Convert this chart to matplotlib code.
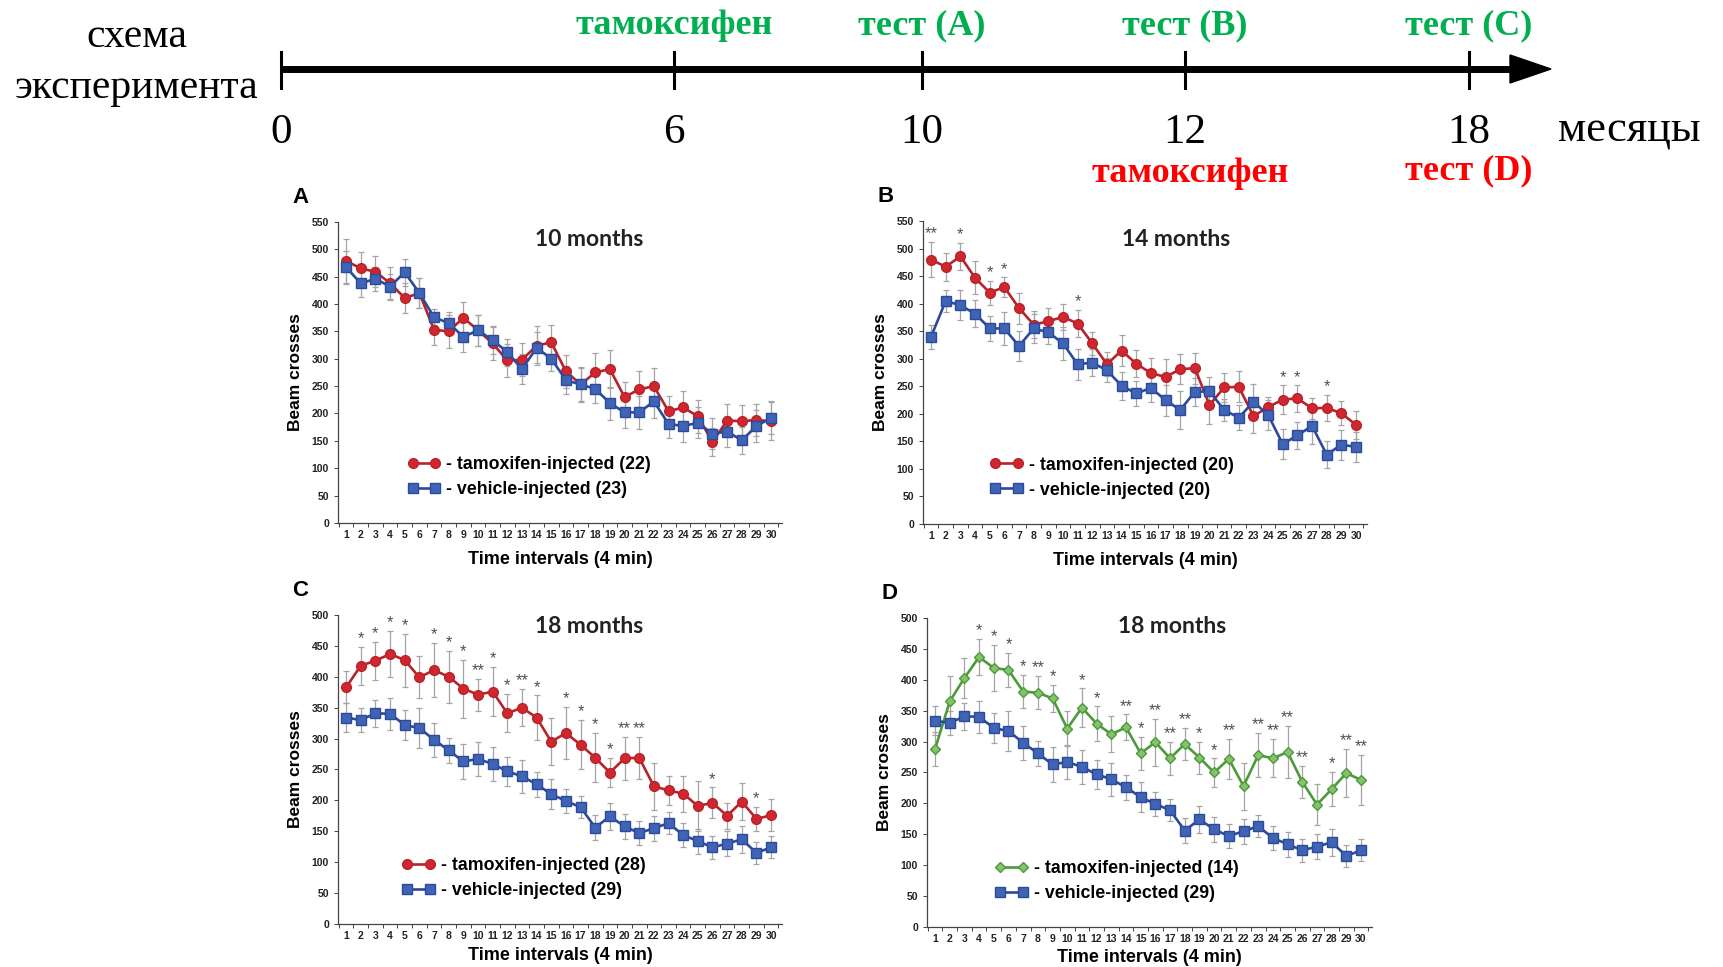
import numpy as np
import matplotlib.pyplot as plt
from matplotlib.patches import Polygon

intervals = np.arange(1, 31)

# A - 10 months
a_tam = [479, 465, 459, 438, 411, 420, 353, 350, 375, 352, 328, 297, 298, 324, 330,
         277, 253, 275, 281, 230, 244, 250, 204, 211, 195, 148, 187, 186, 188, 186]
a_tam_err = [40, 30, 28, 30, 28, 28, 28, 30, 28, 28, 30, 30, 30, 35, 32,
             30, 32, 35, 35, 28, 33, 33, 28, 30, 30, 25, 30, 30, 30, 35]
a_veh = [467, 438, 446, 432, 458, 420, 376, 365, 340, 352, 334, 312, 281, 320, 300,
         261, 253, 245, 219, 202, 202, 222, 181, 177, 183, 163, 167, 151, 177, 192]
a_veh_err = [30, 25, 22, 22, 25, 28, 15, 20, 28, 28, 25, 25, 28, 28, 22,
             25, 30, 25, 30, 28, 30, 30, 25, 30, 28, 28, 28, 25, 30, 30]

# B - 14 months
b_tam = [480, 467, 486, 447, 420, 430, 392, 362, 368, 376, 364, 328, 290, 315, 291,
         274, 267, 281, 283, 216, 248, 249, 196, 212, 226, 228, 210, 211, 201, 180]
b_tam_err = [32, 25, 24, 30, 22, 18, 28, 25, 25, 24, 25, 21, 22, 28, 25,
             27, 33, 27, 28, 34, 27, 28, 30, 18, 26, 24, 19, 24, 22, 26]
b_veh = [340, 405, 397, 382, 355, 355, 323, 355, 348, 328, 290, 293, 279, 251, 237,
         247, 225, 207, 240, 241, 207, 193, 222, 198, 145, 161, 178, 126, 144, 140]
b_veh_err = [22, 20, 27, 25, 22, 30, 27, 27, 22, 30, 28, 25, 22, 25, 22,
             25, 28, 35, 25, 25, 20, 23, 32, 28, 27, 25, 32, 25, 27, 27]
b_stars = [(1, '**'), (3, '*'), (5, '*'), (6, '*'), (11, '*'), (25, '*'), (26, '*'), (28, '*')]

# C - 18 months
c_tam = [383, 418, 426, 437, 427, 399, 411, 400, 381, 371, 376, 341, 350, 334, 295,
         309, 290, 269, 245, 268, 269, 223, 216, 211, 191, 196, 175, 198, 170, 176]
c_tam_err = [26, 31, 31, 37, 43, 34, 44, 42, 47, 26, 40, 31, 30, 36, 38,
             42, 40, 40, 24, 35, 34, 38, 23, 29, 41, 25, 21, 30, 20, 26]
veh_18 = [334, 330, 341, 340, 322, 317, 298, 281, 263, 267, 259, 247, 239, 226, 210,
          199, 189, 156, 174, 158, 147, 155, 163, 144, 134, 124, 130, 137, 115, 124]
veh_18_err = [23, 20, 22, 26, 25, 32, 28, 20, 28, 27, 27, 24, 27, 20, 24,
              20, 18, 20, 22, 20, 20, 20, 18, 19, 20, 19, 20, 22, 18, 18]
c_stars = [(2, '*'), (3, '*'), (4, '*'), (5, '*'), (7, '*'), (8, '*'), (9, '*'), (10, '**'),
           (11, '*'), (12, '*'), (13, '**'), (14, '*'), (16, '*'), (17, '*'), (18, '*'),
           (19, '*'), (20, '**'), (21, '**'), (26, '*'), (29, '*')]

# D - 18 months, tamoxifen at 12 months
d_tam = [288, 365, 403, 437, 419, 416, 381, 379, 370, 321, 355, 329, 312, 323, 281,
         299, 273, 296, 274, 250, 272, 228, 278, 273, 283, 235, 198, 223, 249, 238]
d_tam_err = [28, 41, 33, 29, 37, 27, 27, 27, 22, 28, 31, 28, 29, 21, 27,
             38, 27, 26, 26, 23, 33, 38, 36, 31, 42, 26, 33, 28, 39, 40]
d_stars = [(4, '*'), (5, '*'), (6, '*'), (7, '*'), (8, '**'), (9, '*'), (11, '*'), (12, '*'),
           (14, '**'), (15, '*'), (16, '**'), (17, '**'), (18, '**'), (19, '*'), (20, '*'),
           (21, '**'), (23, '**'), (24, '**'), (25, '**'), (26, '**'), (28, '*'), (29, '**'), (30, '**')]

# timeline
months = ['0', '6', '10', '12', '18']
month_px = [281, 674, 922, 1185, 1469]
top_labels = ['тамоксифен', 'тест (A)', 'тест (B)', 'тест (C)']
top_at = [1, 2, 3, 4]

RED, RED_F = '#b8232b', '#d0262e'
BLUE, BLUE_F = '#2b4a9a', '#3f63b5'
GREEN, GREEN_F = '#4d9a3a', '#86c26e'
SANS = 'Liberation Sans'
SERIF = 'Liberation Serif'

fig = plt.figure(figsize=(17.23, 9.67), dpi=100)

# --- scheme on top ---
tl = fig.add_axes([0, 0, 1, 1])
tl.set_xlim(0, 1723)
tl.set_ylim(967, 0)
tl.axis('off')
tl.plot([281, 1515], [69, 69], color='black', lw=5, solid_capstyle='butt')
tl.add_patch(Polygon([[1510, 55], [1551, 69], [1510, 83]], closed=True, color='black'))
for x, m in zip(month_px, months):
    tl.plot([x, x], [52, 88], color='black', lw=2.2)
    tl.text(x, 133, m, ha='center', va='center', fontsize=31, family=SERIF)
for i, lab in zip(top_at, top_labels):
    tl.text(month_px[i], 26, lab, ha='center', va='center', fontsize=26,
            fontweight='bold', family=SERIF, color='#00b050')
tl.text(1629, 131, 'месяцы', ha='center', va='center', fontsize=32, family=SERIF)
tl.text(137, 37, 'схема', ha='center', va='center', fontsize=30, family=SERIF)
tl.text(137, 88, 'эксперимента', ha='center', va='center', fontsize=30, family=SERIF)
tl.text(1190, 173, 'тамоксифен', ha='center', va='center', fontsize=26,
        fontweight='bold', family=SERIF, color='#ff0000')
tl.text(month_px[4], 171, 'тест (D)', ha='center', va='center', fontsize=26,
        fontweight='bold', family=SERIF, color='#ff0000')


def panel(rect, letter, title, tpos, ymax, series, labels, stars, leg_xy, xpad):
    ax = fig.add_axes(rect)
    for vals, errs, col, face, mk, ms in series:
        ax.errorbar(intervals, vals, yerr=errs, fmt='none', ecolor='#a5a5a5',
                    elinewidth=0.9, capsize=2.5, capthick=0.9, zorder=1)
    handles = []
    for vals, errs, col, face, mk, ms in series:
        h, = ax.plot(intervals, vals, color=col, lw=1.9, marker=mk, ms=ms, mfc=face,
                     mec=col, mew=1.0, zorder=3)
        handles.append(h)
    top = np.max([np.array(s[0]) + np.array(s[1]) for s in series], axis=0)
    for i, s in stars:
        ax.text(i, top[i - 1] + 1, s, ha='center', va='bottom', fontsize=12,
                color='#505050', family=SANS)
    ax.set_xlim(0.45, 30.75)
    ax.set_ylim(0, ymax)
    ax.set_yticks(np.arange(0, ymax + 1, 50))
    ax.set_xticks(intervals)
    ax.set_xticks(np.arange(0.5, 31, 1), minor=True)
    ax.tick_params(axis='x', which='major', length=0, pad=5, labelsize=7.5)
    ax.tick_params(axis='x', which='minor', length=3, width=0.7, color='#444444')
    ax.tick_params(axis='y', length=3, width=0.7, color='#444444', labelsize=7.5)
    for t in ax.get_xticklabels() + ax.get_yticklabels():
        t.set_fontweight('bold')
        t.set_family(SANS)
        t.set_color('#222222')
    for sp in ['top', 'right']:
        ax.spines[sp].set_visible(False)
    for sp in ['left', 'bottom']:
        ax.spines[sp].set_color('#444444')
        ax.spines[sp].set_linewidth(0.9)
    ax.set_ylabel('Beam crosses', fontsize=12.5, fontweight='bold', family=SANS, labelpad=6)
    ax.set_xlabel('Time intervals (4 min)', fontsize=13, fontweight='bold', family=SANS, labelpad=xpad)
    ax.text(tpos[0], tpos[1], title, transform=ax.transAxes, ha='center', va='center',
            fontsize=16.5, fontweight='bold', family='Lato', color='#222222')
    ax.text(-0.085, 1.08, letter, transform=ax.transAxes, ha='center', va='center',
            fontsize=16, fontweight='bold', family=SANS)
    ax.legend(handles, labels, loc='center left', bbox_to_anchor=leg_xy, frameon=False,
              numpoints=2, handlelength=1.85, handletextpad=0.35, labelspacing=0.45,
              prop={'family': SANS, 'weight': 'bold', 'size': 12.8})
    return ax


panel([0.1962, 0.4592, 0.2577, 0.3113], 'A', '10 months', (0.565, 0.94), 550,
      [(a_tam, a_tam_err, RED, RED_F, 'o', 7), (a_veh, a_veh_err, BLUE, BLUE_F, 's', 6.5)],
      ['- tamoxifen-injected (22)', '- vehicle-injected (23)'], [], (0.12, 0.153), 8)
panel([0.5357, 0.4581, 0.2577, 0.3133], 'B', '14 months', (0.57, 0.94), 550,
      [(b_tam, b_tam_err, RED, RED_F, 'o', 7), (b_veh, b_veh_err, BLUE, BLUE_F, 's', 6.5)],
      ['- tamoxifen-injected (20)', '- vehicle-injected (20)'], b_stars, (0.115, 0.153), 8)
panel([0.1962, 0.0445, 0.2577, 0.3195], 'C', '18 months', (0.565, 0.964), 500,
      [(c_tam, c_tam_err, RED, RED_F, 'o', 7), (veh_18, veh_18_err, BLUE, BLUE_F, 's', 6.5)],
      ['- tamoxifen-injected (28)', '- vehicle-injected (29)'], c_stars, (0.108, 0.148), 4.5)
panel([0.538, 0.0414, 0.2583, 0.3195], 'D', '18 months', (0.55, 0.974), 500,
      [(d_tam, d_tam_err, GREEN, GREEN_F, 'D', 5.5), (veh_18, veh_18_err, BLUE, BLUE_F, 's', 6.5)],
      ['- tamoxifen-injected (14)', '- vehicle-injected (29)'], d_stars, (0.117, 0.148), 3.5)

fig.savefig('out.png', dpi=100)
